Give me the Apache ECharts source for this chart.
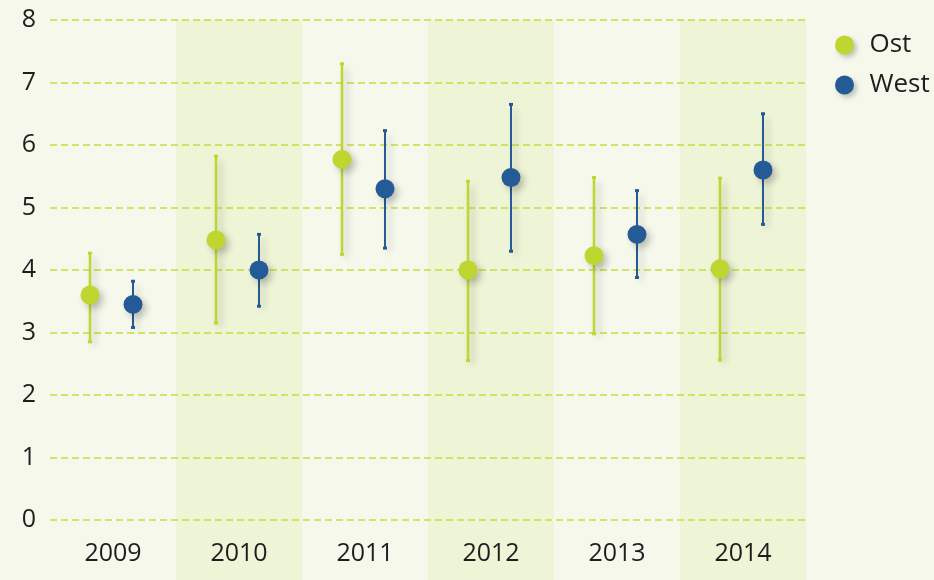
<!DOCTYPE html>
<html><head><meta charset="utf-8">
<script src="https://cdn.jsdelivr.net/npm/echarts@6/dist/echarts.min.js"></script>
<style>html,body{margin:0;padding:0;background:#f5f8eb;}#c{width:934px;height:580px;}</style>
</head><body><div id="c"></div>
<script>
const years = ['2009','2010','2011','2012','2013','2014'];
const ostMean = [3.6, 4.48, 5.77, 4.0, 4.23, 4.02];
const ostLow  = [2.85, 3.15, 4.25, 2.55, 2.98, 2.56];
const ostHigh = [4.27, 5.82, 7.3, 5.42, 5.48, 5.47];
const westMean = [3.45, 4.0, 5.3, 5.48, 4.57, 5.6];
const westLow  = [3.08, 3.42, 4.35, 4.3, 3.88, 4.73];
const westHigh = [3.82, 4.57, 6.23, 6.65, 5.27, 6.5];
const shadedYears = ['2010','2012','2014'];
const yTicks = [0,1,2,3,4,5,6,7,8];

const OST = '#bfd630', WEST = '#245a96';
const chart = echarts.init(document.getElementById('c'));

function errSeries(name, color, mean, low, high, offset, lw) {
  return {
    name, type: 'custom', z: 5,
    itemStyle: { color },
    data: years.map((y, i) => [i, mean[i], low[i], high[i]]),
    renderItem: function (params, api) {
      const c = api.coord([api.value(0), api.value(1)]);
      const lo = api.coord([api.value(0), api.value(2)]);
      const hi = api.coord([api.value(0), api.value(3)]);
      const x = c[0] + offset;
      const sh = { shadowBlur: 7, shadowOffsetX: 4, shadowOffsetY: 4, shadowColor: 'rgba(0,0,0,0.22)' };
      return { type: 'group', children: [
        { type: 'line', shape: { x1: x, y1: lo[1], x2: x, y2: hi[1] }, style: Object.assign({ stroke: color, lineWidth: lw }, sh) },
        { type: 'rect', shape: { x: x - 2, y: hi[1] - 1.5, width: 4, height: 3 }, style: { fill: color } },
        { type: 'rect', shape: { x: x - 2, y: lo[1] - 1.5, width: 4, height: 3 }, style: { fill: color } },
        { type: 'circle', shape: { cx: x, cy: c[1], r: 9.5 }, style: Object.assign({ fill: color }, sh) }
      ]};
    }
  };
}

const legendShadow = { shadowBlur: 5, shadowOffsetX: 3, shadowOffsetY: 3, shadowColor: 'rgba(0,0,0,0.22)' };

chart.setOption({
  backgroundColor: '#f5f8eb',
  animation: false,
  textStyle: { fontFamily: 'Open Sans' },
  grid: { left: 50, right: 128, top: 20, bottom: 60 },
  legend: {
    orient: 'vertical', left: 830, top: 27, itemGap: 14,
    itemWidth: 30, itemHeight: 19,
    textStyle: { fontSize: 26, color: '#1e1e1e', fontFamily: 'Open Sans', padding: [0, 0, 0, 5] },
    data: [{ name: 'Ost', icon: 'circle', itemStyle: Object.assign({ color: OST }, legendShadow) },
           { name: 'West', icon: 'circle', itemStyle: Object.assign({ color: WEST }, legendShadow) }]
  },
  xAxis: {
    type: 'category', data: years,
    axisLine: { show: false }, axisTick: { show: false },
    axisLabel: { fontSize: 25, color: '#1e1e1e', margin: 21 }
  },
  yAxis: {
    type: 'value', min: 0, max: 8, interval: 1,
    axisLine: { show: false }, axisTick: { show: false },
    axisLabel: { fontSize: 25, color: '#1e1e1e', margin: 14, formatter: v => yTicks.includes(v) ? String(v) : '' },
    splitLine: { lineStyle: { color: '#c6dc3c', type: [7, 4], width: 1.5 } }
  },
  series: [
    {
      type: 'custom', z: 0, silent: true, legendHoverLink: false,
      data: shadedYears.map(y => [years.indexOf(y)]),
      renderItem: function (params, api) {
        const c = api.coord([api.value(0), 8]);
        const w = api.size([1, 0])[0];
        return { type: 'rect', z2: -10, shape: { x: c[0] - w / 2, y: c[1], width: w, height: api.getHeight() - c[1] }, style: { fill: '#eef4d6' } };
      }
    },
    errSeries('Ost', OST, ostMean, ostLow, ostHigh, -23, 2.5),
    errSeries('West', WEST, westMean, westLow, westHigh, 20, 2)
  ]
});
</script></body></html>
